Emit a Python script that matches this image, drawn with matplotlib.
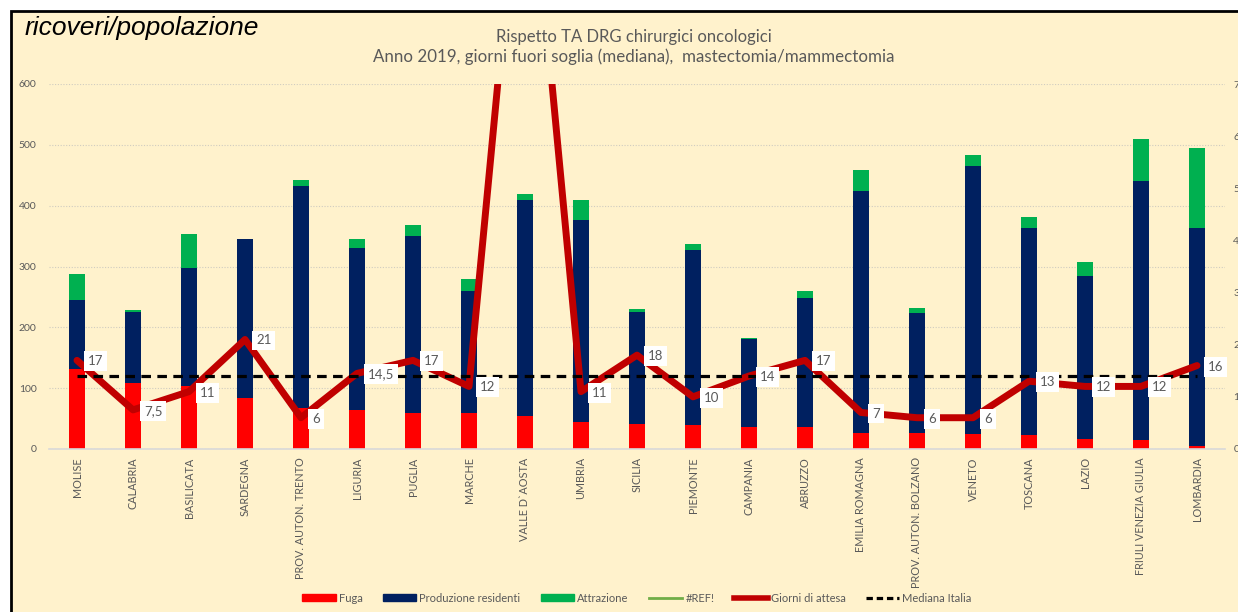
import matplotlib.pyplot as plt
import numpy as np
from matplotlib.lines import Line2D
from matplotlib.patches import Patch, Rectangle

regioni = ['MOLISE', 'CALABRIA', 'BASILICATA', 'SARDEGNA', 'PROV. AUTON. TRENTO',
           'LIGURIA', 'PUGLIA', 'MARCHE', 'VALLE D`AOSTA', 'UMBRIA', 'SICILIA',
           'PIEMONTE', 'CAMPANIA', 'ABRUZZO', 'EMILIA ROMAGNA', 'PROV. AUTON. BOLZANO',
           'VENETO', 'TOSCANA', 'LAZIO', 'FRIULI VENEZIA GIULIA', 'LOMBARDIA']
fuga = [132, 109, 103, 84, 67, 64, 60, 59, 55, 45, 41, 40, 36, 36, 26, 26, 25, 23, 17, 14, 5]
produzione = [113, 117, 194, 261, 365, 266, 290, 201, 355, 332, 185, 287, 144, 213,
              398, 198, 440, 341, 268, 426, 358]
attrazione = [42, 2, 56, 1, 10, 15, 19, 20, 9, 33, 4, 10, 3, 11, 34, 7, 18, 17, 23, 69, 131]
giorni = [17, 7.5, 11, 21, 6, 14.5, 17, 12, 125, 11, 18, 10, 14, 17, 7, 6, 6, 13, 12, 12, 16]
mediana_italia = 14

ROSSO = '#FF0000'
BLU = '#002060'
VERDE = '#00B050'
LINEA = '#C00000'
GRIGIO = '#595959'
CREMA = '#FFF2CC'

plt.rcParams['font.family'] = ['Lato', 'DejaVu Sans']

fig = plt.figure(figsize=(12.38, 6.12), dpi=100, facecolor='white')
# cornice del grafico
fig.patches.append(Rectangle((11 / 1238, -0.1), 2, 1 - 11 / 612 + 0.1,
                             transform=fig.transFigure, facecolor=CREMA,
                             edgecolor='black', linewidth=2, zorder=-10))

ax = fig.add_axes([49 / 1238, 1 - 449 / 612, 1176 / 1238, 365 / 612])
ax.set_facecolor('none')
x = np.arange(len(regioni))
fuga = np.array(fuga)
produzione = np.array(produzione)
attrazione = np.array(attrazione)

w = 0.3
ax.bar(x, fuga, w, color=ROSSO, zorder=2)
ax.bar(x, produzione, w, bottom=fuga, color=BLU, zorder=2)
ax.bar(x, attrazione, w, bottom=fuga + produzione, color=VERDE, zorder=2)

ax.set_xlim(-0.5, len(regioni) - 0.5)
ax.set_ylim(0, 600)
ax.set_yticks(range(0, 601, 100))
ax.yaxis.grid(True, linestyle=(0, (1, 1.5)), color='#D0CCC0', linewidth=0.8, zorder=0)
ax.set_axisbelow(True)
for s in ['top', 'right', 'left']:
    ax.spines[s].set_visible(False)
ax.spines['bottom'].set_color('#D9D9D9')
ax.spines['bottom'].set_linewidth(1.2)
ax.set_xticks(x)
ax.set_xticklabels(regioni, rotation=90, fontsize=7.8, color=GRIGIO)
ax.tick_params(axis='x', length=0, pad=6)
ax.tick_params(axis='y', length=0, pad=9, labelsize=7.5, labelcolor=GRIGIO)

# asse secondario: giorni di attesa (le etichette escono dal bordo destro)
ax2 = ax.twinx()
ax2.set_ylim(0, 70)
ax2.set_yticks(range(0, 71, 10))
ax2.tick_params(axis='y', length=0, pad=6, labelsize=7.5, labelcolor=GRIGIO)
for s in ax2.spines.values():
    s.set_visible(False)

ax2.plot(x, giorni, color=LINEA, linewidth=5, solid_capstyle='round',
         solid_joinstyle='round', zorder=3)
ax2.plot(x, [mediana_italia] * len(x), color='black', linewidth=2.3,
         dashes=(3, 2), zorder=4)

for xi, g in zip(x, giorni):
    ax2.annotate(f'{g:g}'.replace('.', ','), (xi, g), xytext=(11, -1),
                 textcoords='offset pixels', ha='left', va='center',
                 fontsize=9.5, color=GRIGIO, zorder=5,
                 bbox=dict(boxstyle='square,pad=0.3', facecolor='white', edgecolor='none'))

fig.text(25 / 1238, 1 - 28 / 612, 'ricoveri/popolazione', fontsize=19,
         style='italic', family='Liberation Sans', va='center', ha='left')
fig.text(634 / 1238, 1 - 37 / 612, 'Rispetto TA DRG chirurgici oncologici',
         fontsize=12, color=GRIGIO, ha='center', va='center')
fig.text(634 / 1238, 1 - 57 / 612,
         'Anno 2019, giorni fuori soglia (mediana),  mastectomia/mammectomia',
         fontsize=12.2, color=GRIGIO, ha='center', va='center')

handles = [Patch(color=ROSSO, label='Fuga'),
           Patch(color=BLU, label='Produzione residenti'),
           Patch(color=VERDE, label='Attrazione'),
           Line2D([], [], color='#70AD47', linewidth=2, label='#REF!'),
           Line2D([], [], color=LINEA, linewidth=4, label='Giorni di attesa'),
           Line2D([], [], color='black', linewidth=2.3, dashes=(2, 1.2), label='Mediana Italia')]
fig.legend(handles=handles, loc='center', bbox_to_anchor=(637 / 1238, 1 - 598 / 612),
           ncol=6, frameon=False, fontsize=8, labelcolor=GRIGIO,
           handlelength=3, handleheight=0.5, handletextpad=0.3, columnspacing=1.8)

fig.savefig('out.png', dpi=100, facecolor='white')
